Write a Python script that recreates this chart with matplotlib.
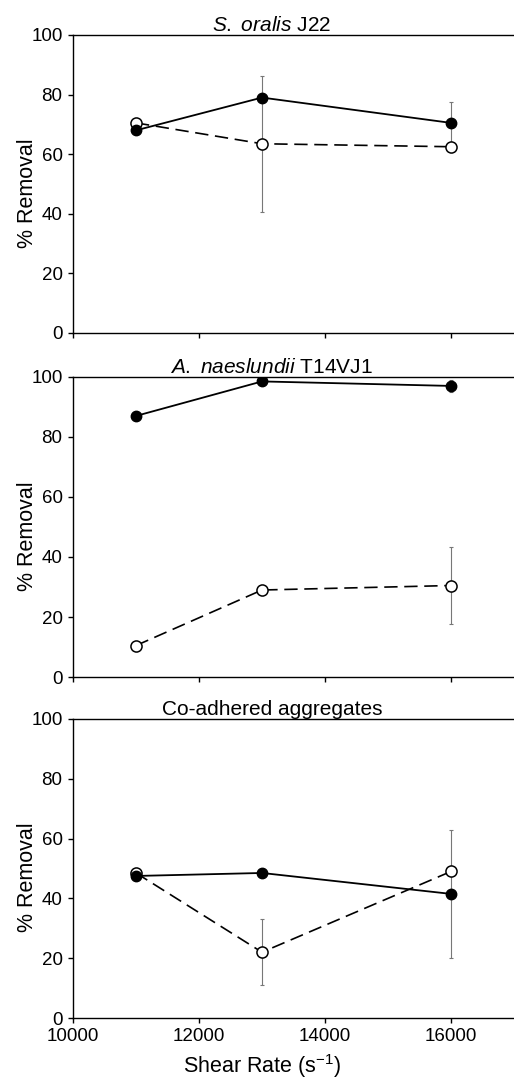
import numpy as np
import matplotlib
matplotlib.use('Agg')
from matplotlib import pyplot as plt

plt.rcParams['font.family'] = ['Liberation Sans', 'DejaVu Sans']
plt.rcParams['mathtext.fontset'] = 'custom'
plt.rcParams['mathtext.rm'] = 'Liberation Sans'
plt.rcParams['mathtext.it'] = 'Liberation Sans:italic'

# shear rates (s^-1)
shear = [11000, 13000, 16000]

titles = [r'$\it{S.\ oralis}$ J22',
          r'$\it{A.\ naeslundii}$ T14VJ1',
          'Co-adhered aggregates']

# filled circles, solid line
filled = [[68, 79, 70.5],
          [87, 98.5, 97],
          [47.5, 48.5, 41.5]]
filled_err = [[0, 0, 7],
              [0, 0.5, 2],
              [0, 0.5, 21.5]]

# open circles, dashed line
open_ = [[70.5, 63.5, 62.5],
         [10.5, 29, 30.5],
         [48.5, 22, 49]]
open_err = [[0, 22.75, 0],
            [0, 0, 12.75],
            [0, 11, 0]]

yticks = [0, 20, 40, 60, 80, 100]
xticks = [10000, 12000, 14000, 16000]

fig = plt.figure(figsize=(5.14, 10.8), dpi=100)
boxes = [(0.142, 0.6917, 0.858, 0.2759),
         (0.142, 0.3731, 0.858, 0.2779),
         (0.142, 0.0574, 0.858, 0.2769)]

for i in range(3):
    ax = fig.add_axes(boxes[i])
    ax.errorbar(shear, filled[i], yerr=filled_err[i], fmt='none', ecolor='#777777',
                elinewidth=0.8, capsize=1.6, capthick=0.8, zorder=1)
    ax.errorbar(shear, open_[i], yerr=open_err[i], fmt='none', ecolor='#777777',
                elinewidth=0.8, capsize=1.6, capthick=0.8, zorder=1)
    ax.plot(shear, open_[i], '--', color='black', lw=1.2, dashes=(8, 4),
            marker='o', ms=8, mfc='white', mec='black', mew=1.1, zorder=3)
    ax.plot(shear, filled[i], '-', color='black', lw=1.3,
            marker='o', ms=7.5, mfc='black', mec='black', zorder=4)
    ax.set_xlim(10000, 17000)
    ax.set_ylim(0, 100)
    ax.set_yticks(yticks)
    ax.set_xticks(xticks)
    ax.spines['right'].set_visible(False)
    for s in ['left', 'bottom', 'top']:
        ax.spines[s].set_linewidth(1.0)
    ax.tick_params(direction='out', length=3.5, width=1.0, labelsize=13.5, pad=4)
    if i < 2:
        ax.set_xticklabels([])
    else:
        ax.set_xlabel('Shear Rate (s$^{-1}$)', fontsize=15.5)
        ax.xaxis.set_label_coords(0.43, -0.114)
    ax.set_ylabel('% Removal', fontsize=15.5)
    ax.yaxis.set_label_coords(-0.079, 0.47)
    ax.set_title(titles[i], fontsize=15, pad=3, x=0.451)

fig.savefig('out.png', dpi=100)
